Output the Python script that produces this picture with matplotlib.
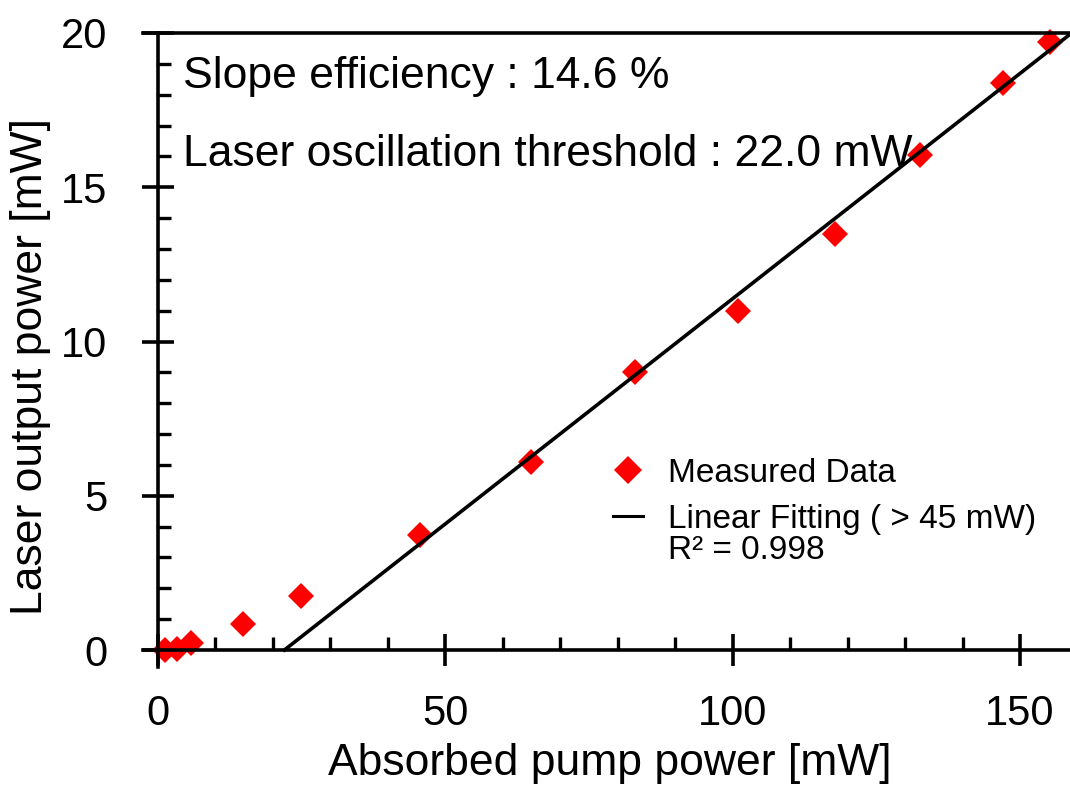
import numpy as np
import matplotlib
matplotlib.use("Agg")
from matplotlib import pyplot as plt
from matplotlib.ticker import MultipleLocator
from matplotlib.lines import Line2D

plt.rcParams['font.family'] = ['Liberation Sans', 'DejaVu Sans']

# measured laser output vs absorbed pump power
pump_power = [1.2, 3.3, 5.7, 14.8, 24.9, 45.6, 64.9, 83.0, 100.9, 117.8, 132.6, 147.0, 155.2]
output_power = [0.0, 0.02, 0.22, 0.84, 1.75, 3.73, 6.09, 9.01, 10.99, 13.48, 16.04, 18.38, 19.71]

# linear fit above 45 mW
slope_eff = 14.6      # %
threshold = 22.0      # mW
r_squared = 0.998

xticks = [0, 50, 100, 150]
yticks = [0, 5, 10, 15, 20]

fig = plt.figure(figsize=(10.7, 7.85), dpi=100)
ax = fig.add_axes([143 / 1070, 118 / 785, 927 / 1070, 634 / 785])

fit_x = np.array([threshold, 165.0])
fit_y = slope_eff / 100 * (fit_x - threshold)

ax.plot(pump_power, output_power, linestyle='none', marker='D', color='#ff0000',
        markersize=13.5, markeredgewidth=0, clip_on=False, zorder=2)
ax.plot(fit_x, fit_y, color='black', linewidth=2.6, zorder=3)

ax.set_xlim(-2.6, 158.7)
ax.set_ylim(-0.55, 20)

# axes crossing at the origin
ax.spines['left'].set_position(('data', 0))
ax.spines['bottom'].set_position(('data', 0))
ax.spines['right'].set_visible(False)
for side in ['left', 'bottom', 'top']:
    ax.spines[side].set_linewidth(2.6)

ax.set_xticks(xticks)
ax.set_yticks(yticks)
ax.xaxis.set_minor_locator(MultipleLocator(10))
ax.yaxis.set_minor_locator(MultipleLocator(1))
ax.tick_params(which='major', direction='inout', length=23, width=2.6, labelsize=30)
ax.tick_params(which='minor', direction='in', length=9.5, width=2.4)
ax.tick_params(axis='x', which='major', pad=20)
ax.tick_params(axis='y', which='major', pad=25)

fig.text(610 / 1070, 10 / 785, 'Absorbed pump power [mW]', fontsize=32,
         ha='center', va='baseline')
fig.text(31 / 1070, 1 - 367 / 785, 'Laser output power [mW]', fontsize=32,
         rotation=90, ha='center', va='center')

ax.text(0.043, 0.913, f'Slope efficiency : {slope_eff} %', fontsize=32,
        transform=ax.transAxes, va='baseline')
ax.text(0.043, 0.79, f'Laser oscillation threshold : {threshold} mW', fontsize=32,
        transform=ax.transAxes, va='baseline')

handles = [
    Line2D([], [], linestyle='none', marker='D', color='#ff0000', markersize=14, markeredgewidth=0),
    Line2D([], [], color='black', linewidth=2.2),
]
ax.legend(handles, ['Measured Data', 'Linear Fitting ( > 45 mW)'], loc='upper left',
          bbox_to_anchor=(0.507, 0.33), frameon=False, fontsize=24, borderpad=0,
          handlelength=0.9, handletextpad=0.76, labelspacing=0.45, borderaxespad=0)
ax.text(0.566, 0.183, f'R\u00b2 = {r_squared}', fontsize=24, transform=ax.transAxes,
        va='center')

fig.savefig('out.png', dpi=100)
